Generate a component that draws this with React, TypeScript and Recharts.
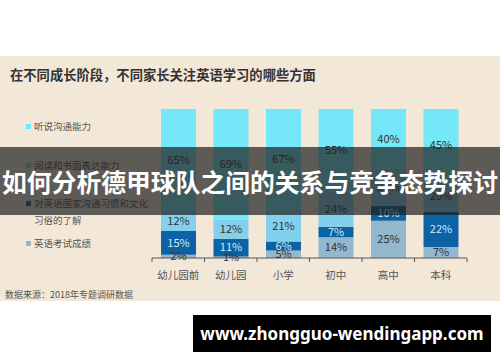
import { BarChart, Bar, XAxis, YAxis, LabelList } from 'recharts';

const stages = ['幼儿园前', '幼儿园', '小学', '初中', '高中', '本科'];
const examScores = [2, 1, 5, 14, 25, 7];
const cultureKnowledge = [15, 11, 6, 7, 10, 22];
const readingWriting = [12, 12, 21, 24, 25, 20];
const listeningSpeaking = [65, 69, 67, 55, 40, 45];

const series = [
  { key: 'speak', name: '听说沟通能力', color: '#74e8f9', text: '#333' },
  { key: 'read', name: '阅读和书面表达能力', color: '#83d0ec', text: '#333' },
  { key: 'culture', name: '对英语国家沟通习惯和文化习俗的了解', color: '#0b62a5', text: '#dbe7f1' },
  { key: 'exam', name: '英语考试成绩', color: '#93b7cd', text: '#333' },
];

const data = stages.map((stage, i) => ({
  stage,
  exam: examScores[i],
  culture: cultureKnowledge[i],
  read: readingWriting[i],
  speak: listeningSpeaking[i],
}));

const FONT = '"Microsoft YaHei", "Noto Sans CJK SC", "Noto Sans", sans-serif';

const StageTick = (props: any) => {
  const { x, y, payload, index, visibleTicksCount } = props;
  const half = payload.offset || 26.25;
  return (
    <g>
      <line x1={x - half} y1={y} x2={x - half} y2={y + 4} stroke="#555" />
      {index === visibleTicksCount - 1 && (
        <line x1={x + half} y1={y} x2={x + half} y2={y + 4} stroke="#555" />
      )}
      <text x={x} y={y + 21} textAnchor="middle" fontSize={10.5} fill="#555" fontFamily={FONT}>
        {payload.value}
      </text>
    </g>
  );
};

const pct = (v: any) => `${v}%`;

const legendRows = [
  { color: series[0].color, lines: ['听说沟通能力'], top: 118 },
  { color: series[1].color, lines: ['阅读和书面表达能力'], top: 157 },
  { color: series[2].color, lines: ['对英语国家沟通习惯和文化', '习俗的了解'], top: 195 },
  { color: series[3].color, lines: ['英语考试成绩'], top: 235 },
];

export default function App() {
  return (
    <div style={{ position: 'absolute', left: 0, top: 0, width: 500, height: 362, background: '#fff', overflow: 'hidden', fontFamily: FONT }}>
      <div style={{ position: 'absolute', left: 0, top: 56, width: 500, height: 245, background: '#f3e7d8' }} />
      <div style={{ position: 'absolute', left: 10, top: 65, fontSize: 13.3, fontWeight: 'bold', color: '#333', whiteSpace: 'nowrap' }}>
        在不同成长阶段，不同家长关注英语学习的哪些方面
      </div>

      {legendRows.map((r) => (
        <div key={r.lines[0]} style={{ position: 'absolute', left: 26, top: r.top, fontSize: 9.5, color: '#555', lineHeight: '17px' }}>
          <span style={{ position: 'absolute', left: 0, top: 6, width: 5, height: 5, background: r.color }} />
          {r.lines.map((l) => (
            <div key={l} style={{ marginLeft: 8, whiteSpace: 'nowrap' }}>{l}</div>
          ))}
        </div>
      ))}

      <div style={{ position: 'absolute', left: 0, top: 0 }}>
        <BarChart
          width={500}
          height={362}
          data={data}
          stackOffset="expand"
          barSize={35}
          margin={{ top: 109, right: 33, bottom: 74, left: 152 }}
        >
          <YAxis hide />
          <XAxis
            dataKey="stage"
            height={30}
            tickSize={0}
            tickMargin={0}
            tickLine={false}
            axisLine={{ stroke: '#555' }}
            tick={<StageTick />}
            interval={0}
          />
          {[...series].reverse().map((s) => (
            <Bar key={s.key} dataKey={s.key} name={s.name} stackId="a" fill={s.color} isAnimationActive={false}>
              <LabelList dataKey={s.key} position="center" formatter={pct} fill={s.text} fontSize={11} fontFamily={FONT} />
            </Bar>
          ))}
        </BarChart>
      </div>

      <div style={{ position: 'absolute', left: 0, top: 147, width: 500, height: 68, background: 'rgba(30,30,30,0.7)' }} />
      <div style={{ position: 'absolute', left: 0, top: 147, width: 500, height: 68, lineHeight: '68px', color: '#fff', fontSize: 24.8, fontWeight: 'bold', whiteSpace: 'nowrap', textAlign: 'center' }}>
        如何分析德甲球队之间的关系与竞争态势探讨
      </div>

      <div style={{ position: 'absolute', left: 5, top: 288, fontSize: 9, color: '#555', whiteSpace: 'nowrap' }}>
        数据来源：2018年专题调研数据
      </div>

      <div style={{ position: 'absolute', left: 193, top: 315, width: 298, height: 37, background: '#000', color: '#fff', fontSize: 17, fontWeight: 'bold', lineHeight: '37px', textAlign: 'center', whiteSpace: 'nowrap', fontFamily: '"Noto Sans", sans-serif' }}>
        www.zhongguo-wendingapp.com
      </div>
    </div>
  );
}
